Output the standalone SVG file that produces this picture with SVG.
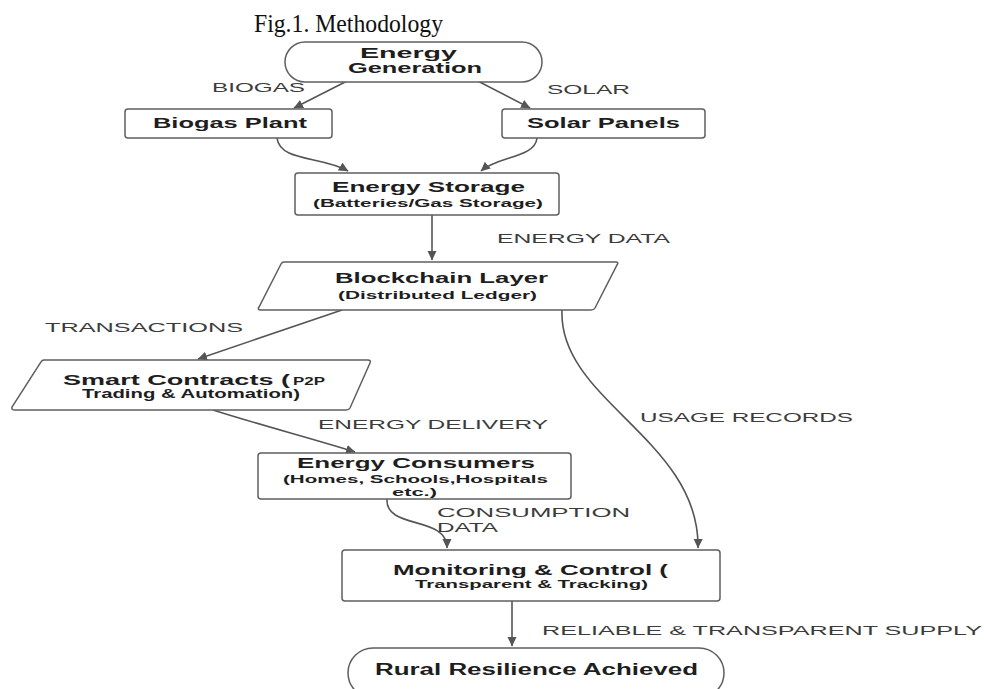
<svg xmlns="http://www.w3.org/2000/svg" width="984" height="689" viewBox="0 0 984 689">
  <style>
    .node { fill: #ffffff; stroke: #5f5f5f; stroke-width: 1.5; }
    .t { font-family: "Liberation Sans", Arial, sans-serif; font-weight: bold; fill: #1e1e1e; }
    .lbl { font-family: "Liberation Sans", Arial, sans-serif; fill: #3c3c3c; font-size: 13.5px; }
    .edge { fill: none; stroke: #555555; stroke-width: 1.6; marker-end: url(#arrow); }
    .title { font-family: "Liberation Serif", "Times New Roman", serif; fill: #111; font-size: 25px; }
  </style>
  <defs>
    <marker id="arrow" markerUnits="userSpaceOnUse" markerWidth="11" markerHeight="10" refX="9" refY="4.5" orient="auto">
      <path d="M0,0 L9.5,4.5 L0,9 z" fill="#555555"/>
    </marker>
  </defs>
  <rect width="984" height="689" fill="#ffffff"/>

  <text class="title" x="254" y="32" textLength="189" lengthAdjust="spacingAndGlyphs">Fig.1. Methodology</text>

  <g id="connectors">
    <path class="edge" d="M353,78 L294,108"/>
    <path class="edge" d="M470,77 L530,108"/>
    <path class="edge" d="M277,138 C280,162 322,156 348,171"/>
    <path class="edge" d="M537,138 C535,158 498,156 481,171"/>
    <path class="edge" d="M432,215 L432,260"/>
    <path class="edge" d="M342,310 L198,359"/>
    <path class="edge" d="M213,410 C260,425 310,438 355,452"/>
    <path class="edge" d="M387,499 C385,530 447,515 447,548"/>
    <path class="edge" d="M562,310 C558,400 700,440 698,548"/>
    <path class="edge" d="M512,601 L512,646"/>

    <text class="lbl" x="212" y="92" textLength="93" lengthAdjust="spacingAndGlyphs">BIOGAS</text>
    <text class="lbl" x="547" y="94" textLength="83" lengthAdjust="spacingAndGlyphs">SOLAR</text>
    <text class="lbl" x="497" y="243" textLength="173" lengthAdjust="spacingAndGlyphs">ENERGY DATA</text>
    <text class="lbl" x="45" y="332" textLength="198" lengthAdjust="spacingAndGlyphs">TRANSACTIONS</text>
    <text class="lbl" x="318" y="429" textLength="230" lengthAdjust="spacingAndGlyphs">ENERGY DELIVERY</text>
    <text class="lbl" x="640" y="422" textLength="213" lengthAdjust="spacingAndGlyphs">USAGE RECORDS</text>
    <text class="lbl" x="437" y="517" font-size="12" textLength="193" lengthAdjust="spacingAndGlyphs">CONSUMPTION</text>
    <text class="lbl" x="437" y="532" font-size="12" textLength="61" lengthAdjust="spacingAndGlyphs">DATA</text>
    <text class="lbl" x="542" y="635" textLength="440" lengthAdjust="spacingAndGlyphs">RELIABLE &amp; TRANSPARENT SUPPLY</text>
  </g>

  <g id="energy-generation">
    <rect class="node" x="285" y="42" width="257" height="40" rx="20" ry="20"/>
    <text class="t" font-size="14" x="360" y="58" textLength="97" lengthAdjust="spacingAndGlyphs">Energy</text>
    <text class="t" font-size="14" x="348" y="73" textLength="134" lengthAdjust="spacingAndGlyphs">Generation</text>
  </g>

  <g id="biogas-plant">
    <rect class="node" x="125" y="109" width="207" height="29" rx="3"/>
    <text class="t" font-size="15" x="153" y="128" textLength="154" lengthAdjust="spacingAndGlyphs">Biogas Plant</text>
  </g>

  <g id="solar-panels">
    <rect class="node" x="502" y="109" width="203" height="29" rx="3"/>
    <text class="t" font-size="15" x="527" y="128" textLength="153" lengthAdjust="spacingAndGlyphs">Solar Panels</text>
  </g>

  <g id="energy-storage">
    <rect class="node" x="295" y="173" width="264" height="42" rx="3"/>
    <text class="t" font-size="15" x="332" y="192" textLength="193" lengthAdjust="spacingAndGlyphs">Energy Storage</text>
    <text class="t" font-size="11.5" x="313" y="207" textLength="230" lengthAdjust="spacingAndGlyphs">(Batteries/Gas Storage)</text>
  </g>

  <g id="blockchain-layer">
    <path class="node" d="M284,262 L616,262 Q619,262 617,265 L595,308 Q594,310 591,310 L261,310 Q257,310 259,307 L281,264 Q282,262 284,262 Z"/>
    <text class="t" font-size="15" x="335" y="283" textLength="213" lengthAdjust="spacingAndGlyphs">Blockchain Layer</text>
    <text class="t" font-size="11.5" x="338" y="299" textLength="199" lengthAdjust="spacingAndGlyphs">(Distributed Ledger)</text>
  </g>

  <g id="smart-contracts">
    <path class="node" d="M44,360 L368,360 Q371,360 370,363 L350,408 Q349,410 346,410 L15,410 Q11,410 12,407 L41,362 Q42,360 44,360 Z"/>
    <text class="t" font-size="15" x="63" y="385" textLength="227" lengthAdjust="spacingAndGlyphs">Smart Contracts (</text>
    <text class="t" font-size="10" x="293" y="385" textLength="32" lengthAdjust="spacingAndGlyphs">P2P</text>
    <text class="t" font-size="12" x="82" y="398" textLength="218" lengthAdjust="spacingAndGlyphs">Trading &amp; Automation)</text>
  </g>

  <g id="energy-consumers">
    <rect class="node" x="258" y="453" width="313" height="46" rx="3"/>
    <text class="t" font-size="15" x="297" y="468" textLength="238" lengthAdjust="spacingAndGlyphs">Energy Consumers</text>
    <text class="t" font-size="11.5" x="283" y="483" textLength="265" lengthAdjust="spacingAndGlyphs">(Homes, Schools,Hospitals</text>
    <text class="t" font-size="11.5" x="392" y="496" textLength="45" lengthAdjust="spacingAndGlyphs">etc.)</text>
  </g>

  <g id="monitoring-control">
    <rect class="node" x="342" y="550" width="378" height="51" rx="3"/>
    <text class="t" font-size="15" x="393" y="575" textLength="275" lengthAdjust="spacingAndGlyphs">Monitoring &amp; Control (</text>
    <text class="t" font-size="11.5" x="415" y="588" textLength="233" lengthAdjust="spacingAndGlyphs">Transparent &amp; Tracking)</text>
  </g>

  <g id="rural-resilience">
    <rect class="node" x="348" y="648" width="376" height="50" rx="25" ry="25"/>
    <text class="t" font-size="16" x="375" y="675" textLength="323" lengthAdjust="spacingAndGlyphs">Rural Resilience Achieved</text>
  </g>
</svg>
